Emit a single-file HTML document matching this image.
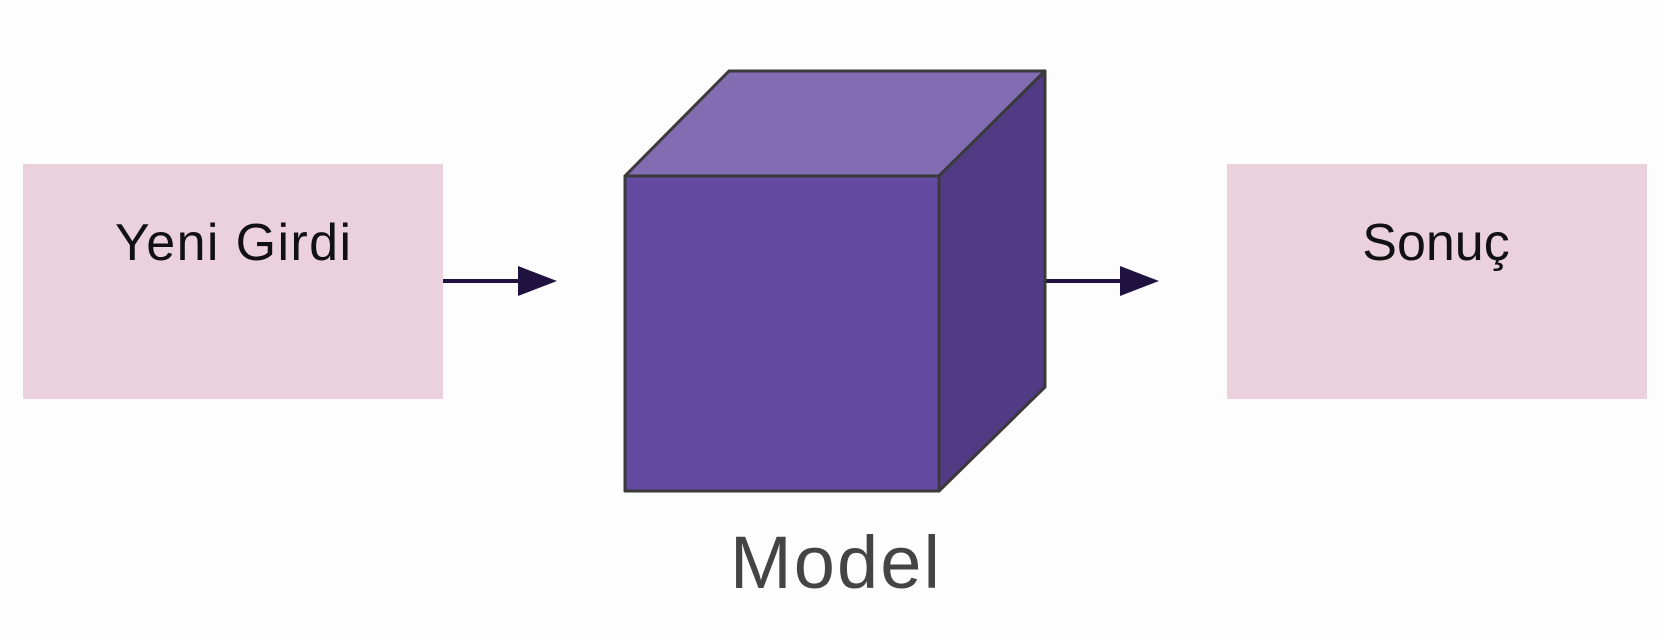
<!DOCTYPE html>
<html><head><meta charset="utf-8"><style>
html,body{margin:0;padding:0;background:#fdfdfd;}
svg{display:block}
</style></head><body>
<svg width="1664" height="640" viewBox="0 0 1664 640" xmlns="http://www.w3.org/2000/svg">
<rect width="1664" height="640" fill="#fdfdfd"/>
<rect x="23" y="164" width="420" height="235" fill="#ead1dc"/>
<rect x="1227" y="164" width="420" height="235" fill="#ead1dc"/>
<text x="233" y="260" font-family="Liberation Sans, sans-serif" font-size="52" text-anchor="middle" fill="#111" textLength="236">Yeni Girdi</text>
<text x="1436" y="260" font-family="Liberation Sans, sans-serif" font-size="52" text-anchor="middle" fill="#111">Sonuç</text>
<line x1="443" y1="281" x2="522" y2="281" stroke="#1f1240" stroke-width="4"/>
<polygon points="518,266 557,281 518,296" fill="#1f1240"/>
<line x1="1045" y1="281" x2="1124" y2="281" stroke="#1f1240" stroke-width="4"/>
<polygon points="1120,266 1159,281 1120,296" fill="#1f1240"/>
<g stroke="#3a3a3a" stroke-width="3" stroke-linejoin="round">
<polygon points="625,176 729,71 1045,71 939,176" fill="#826cb2"/>
<polygon points="939,176 1045,71 1045,387 939,491" fill="#523b85"/>
<rect x="625" y="176" width="314" height="315" fill="#654aa3"/>
</g>
<text x="835" y="588" font-family="Liberation Sans, sans-serif" font-size="74" text-anchor="middle" fill="#444" textLength="210">Model</text>
</svg>
</body></html>
